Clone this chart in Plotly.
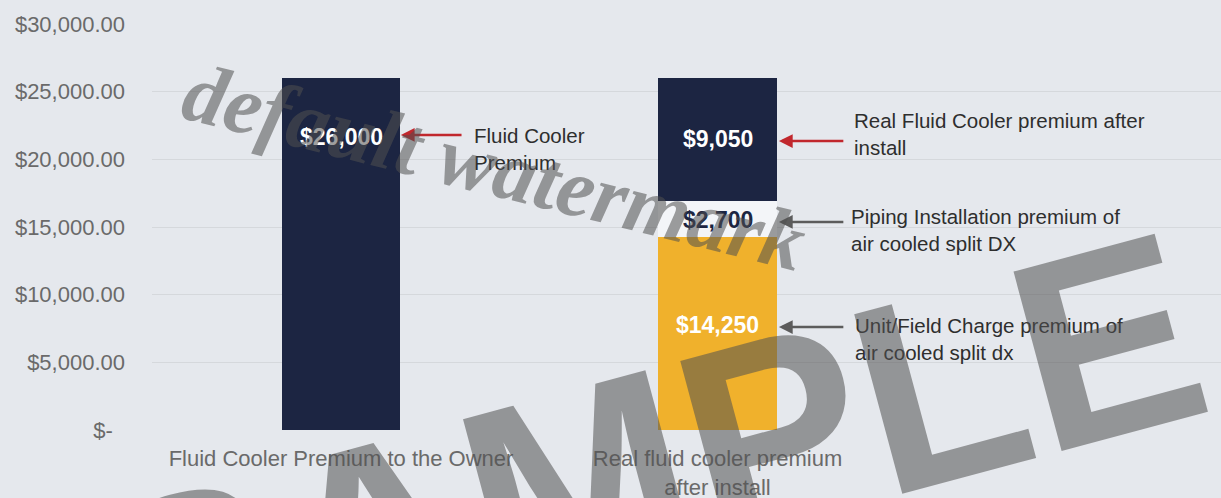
import plotly.graph_objects as go

# ---- data ----
categories = ["Fluid Cooler Premium to the Owner", "Real fluid cooler premium<br>after install"]
unit_field_charge = [0, 14250]
piping_installation = [0, 2700]
fluid_cooler_premium = [26000, 9050]
y_tick_values = [0, 5000, 10000, 15000, 20000, 25000, 30000]
y_tick_labels = ["$-\u00a0\u00a0", "$5,000.00", "$10,000.00", "$15,000.00", "$20,000.00", "$25,000.00", "$30,000.00"]
callout_texts = ["Fluid Cooler<br>Premium",
                 "Real Fluid Cooler premium after<br>install",
                 "Piping Installation premium of<br>air cooled split DX",
                 "Unit/Field Charge premium of<br>air cooled split dx"]

NAVY = "#1c2542"
YELLOW = "#f0b12c"
WHITE = "#f3f5f8"
BG = "#e5e8ed"
FONT = "Liberation Sans, Arial, sans-serif"

x = [0, 1]
fig = go.Figure()
fig.add_bar(x=x, y=unit_field_charge, marker=dict(color=YELLOW, line=dict(width=0)), width=0.315)
fig.add_bar(x=x, y=piping_installation, marker=dict(color=WHITE, line=dict(width=0)), width=0.315)
fig.add_bar(x=x, y=fluid_cooler_premium, marker=dict(color=NAVY, line=dict(width=0)), width=0.315)

ann = []


def money(v):
    return "${:,.0f}".format(v)


ann.append(dict(x=0, y=21650, text=money(fluid_cooler_premium[0]), font=dict(color="white", size=23, family=FONT, weight="bold")))
ann.append(dict(x=1, y=21500, text=money(fluid_cooler_premium[1]), font=dict(color="white", size=23, family=FONT, weight="bold")))
ann.append(dict(x=1, y=15520, text=money(piping_installation[1]), font=dict(color=NAVY, size=23, family=FONT, weight="bold")))
ann.append(dict(x=1, y=7760, text=money(unit_field_charge[1]), font=dict(color="white", size=23, family=FONT, weight="bold")))
for a in ann:
    a.update(xref="x", yref="y", showarrow=False, xanchor="center", yanchor="middle")

RED = "#c1272d"
GRAY = "#5c5c5c"
arrows = [
    (0.159, 0.324, 21800, RED),
    (1.163, 1.338, 21355, RED),
    (1.163, 1.338, 15370, GRAY),
    (1.163, 1.338, 7610, GRAY),
]
for tip, tail, yy, col in arrows:
    ann.append(dict(x=tip, y=yy, ax=tail, ay=yy, xref="x", yref="y", axref="x", ayref="y",
                    text="", showarrow=True, arrowhead=2, arrowsize=1.1, arrowwidth=2.5, arrowcolor=col))

text_pos = [(0.348, 20800), (1.357, 21900), (1.349, 14780), (1.36, 6760)]
for (tx, ty), t in zip(text_pos, callout_texts):
    ann.append(dict(x=tx, y=ty, xref="x", yref="y", text=t, showarrow=False, xanchor="left",
                    yanchor="middle", align="left", font=dict(color="#2e2e2e", size=20.5, family=FONT)))

# watermarks
ann.append(dict(x=0.320, y=0.650, xref="paper", yref="paper", xanchor="center", yanchor="middle",
                text="default watermark", showarrow=False, textangle=14,
                font=dict(family="Liberation Serif, Times New Roman, serif", size=84,
                          color="rgba(80,80,80,0.55)", weight="bold", style="italic")))
ann.append(dict(x=0.466, y=-0.085, xref="paper", yref="paper", xanchor="center", yanchor="middle",
                text="SAMPLE", showarrow=False, textangle=-15,
                font=dict(family=FONT, size=270, color="rgba(80,80,80,0.55)", weight="bold")))

fig.update_layout(
    barmode="stack",
    showlegend=False,
    width=1221, height=498,
    margin=dict(l=152, r=0, t=24, b=68),
    paper_bgcolor=BG, plot_bgcolor=BG,
    annotations=ann,
    xaxis=dict(range=[-0.502, 2.337], tickvals=x, ticktext=categories, showgrid=False, zeroline=False,
               showline=False, ticks="", automargin=False,
               tickfont=dict(size=22, color="#6a6a6a", family=FONT),
               ticklabelstandoff=13),
    yaxis=dict(range=[0, 30000], tickvals=y_tick_values, ticktext=y_tick_labels, showgrid=True,
               gridcolor="#d5d8dc", gridwidth=1, zeroline=False, showline=False, ticks="", automargin=False,
               tickfont=dict(size=22, color="#6a6a6a", family=FONT), ticklabelstandoff=26),
)
fig.write_html("out.html", config={"displayModeBar": False},
               post_script="document.body.style.margin='0';document.body.style.background='%s';" % BG)
